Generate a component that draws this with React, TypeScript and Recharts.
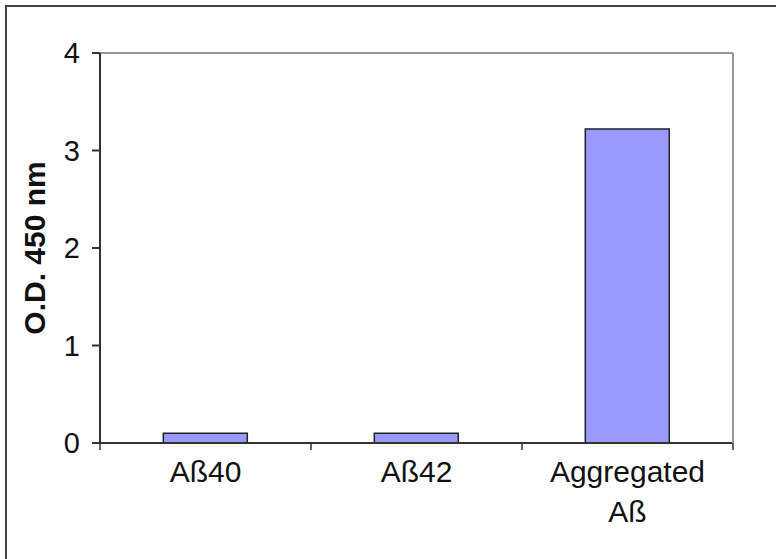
import React from "react";
import { BarChart, Bar, XAxis, YAxis, ReferenceLine, Label } from "recharts";

const categories = ["Aß40", "Aß42", "Aggregated Aß"];
const odValues = [0.1, 0.1, 3.22];
const yTicks = [0, 1, 2, 3, 4];

const data = categories.map((name, i) => ({ name, od: odValues[i] }));

const FONT = "'Liberation Sans', Arial, sans-serif";
const AXIS = "#333";

function CategoryTick(props: any) {
  const { x, y, payload, index, visibleTicksCount, width } = props;
  const band = (width || 633) / (visibleTicksCount || 3);
  const left = x - band / 2;
  const label: string = String(payload.value);
  // long labels wrap onto two lines, like the original
  const lines = label.length > 10 ? label.split(" ") : [label];
  return (
    <g>
      <line x1={left} y1={y} x2={left} y2={y + 7} stroke={AXIS} strokeWidth={1.5} />
      {index === visibleTicksCount - 1 && (
        <line x1={left + band} y1={y} x2={left + band} y2={y + 7} stroke={AXIS} strokeWidth={1.5} />
      )}
      <text x={x} y={y + 39} textAnchor="middle" fontSize={30} fontFamily={FONT} fill="#111">
        {lines.map((ln, i) => (
          <tspan key={i} x={x} dy={i === 0 ? 0 : 40}>
            {ln}
          </tspan>
        ))}
      </text>
    </g>
  );
}

export default function App() {
  return (
    <div style={{ position: "fixed", left: 0, top: 0, width: 776, height: 559, overflow: "hidden", background: "#fff" }}>
      <div
        style={{
          position: "absolute",
          left: 5,
          top: 5,
          width: 900,
          height: 700,
          border: "2px solid #444",
        }}
      />
      <div style={{ position: "absolute", left: 0, top: 0 }}>
        <BarChart
          width={776}
          height={559}
          data={data}
          margin={{ top: 53, right: 41, bottom: 36, left: 0 }}
          barCategoryGap="30%"
        >
          <XAxis
            dataKey="name"
            height={80}
            tickSize={0}
            tickMargin={0}
            tickLine={false}
            axisLine={{ stroke: AXIS, strokeWidth: 2 }}
            tick={<CategoryTick />}
            interval={0}
          />
          <YAxis
            width={100}
            domain={[0, 4]}
            ticks={yTicks}
            tickSize={8}
            tickMargin={12}
            axisLine={{ stroke: AXIS, strokeWidth: 2 }}
            tickLine={{ stroke: AXIS, strokeWidth: 2 }}
            tick={{ fontSize: 29, fontFamily: FONT, fill: "#111" }}
          >
            <Label
              value="O.D. 450 nm"
              angle={-90}
              position="insideLeft"
              offset={34}
              style={{ textAnchor: "middle", fontSize: 30, fontWeight: "bold", fontFamily: FONT, fill: "#111" }}
            />
          </YAxis>
          <YAxis
            yAxisId="r"
            orientation="right"
            width={2}
            domain={[0, 4]}
            tick={false}
            tickLine={false}
            axisLine={{ stroke: "#999", strokeWidth: 2 }}
          />
          <ReferenceLine y={4} stroke="#999" strokeWidth={2} />
          <Bar dataKey="od" fill="#9999FF" stroke="#222" strokeWidth={1.5} isAnimationActive={false} />
        </BarChart>
      </div>
    </div>
  );
}
